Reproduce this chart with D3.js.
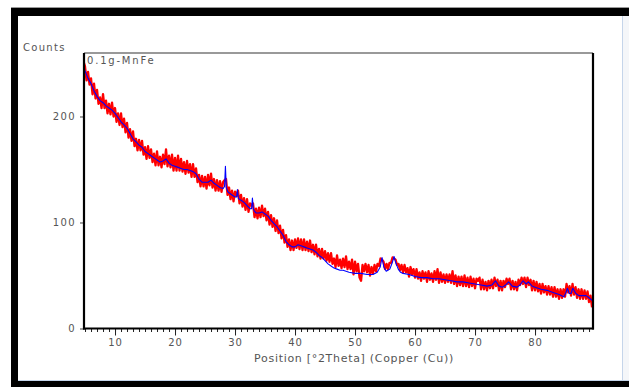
<!DOCTYPE html>
<html>
<head>
<meta charset="utf-8">
<script src="https://cdn.jsdelivr.net/npm/d3@7"></script>
<style>
  body { margin: 0; background: #fff; }
  text { font-family: "DejaVu Sans", sans-serif; font-size: 10px; fill: #555; }
</style>
</head>
<body>
<svg id="chart" width="629" height="387"></svg>
<script>
// sample name and axis ticks
const sampleName = '0.1g-MnFe';
const xTicks = [10, 20, 30, 40, 50, 60, 70, 80];
const yTicks = [0, 100, 200];

// observed counts (red), one value every 0.25 deg starting at 4.75
const redStart = 4.75;
const redStep = 0.25;
const redCounts = [
  252,
  247, 234, 242, 230,  236, 221, 231, 217,  225, 212, 218, 208,  221, 208, 215, 203,
  212, 202, 213, 200,  208, 195, 203, 192,  203, 190, 198, 185,  194, 180, 188, 177,
  186, 172, 179, 168,  178, 168, 177, 164,  171, 160, 172, 161,  169, 157, 165, 154,
  167, 154, 162, 152,  164, 155, 169, 153,  163, 152, 164, 149,  161, 149, 163, 149,
  160, 148, 157, 146,  158, 147, 155, 143,  155, 143, 151, 138,  145, 134, 144, 134,
  143, 132, 145, 135,  146, 133, 141, 130,  140, 130, 139, 129,  138, 140, 141, 126,
  133, 122, 130, 120,  129, 125, 130, 118,  126, 115, 123, 112,  122, 110, 118, 116,
  118, 105, 113, 104,  114, 105, 116, 106,  113, 102, 110, 98,   107, 96, 104, 92,
  102, 90, 97, 85,     93, 81, 88, 77,      84, 74, 83, 74,      84, 76, 85, 75,
  84, 74, 84, 74,      82, 73, 83, 72,      79, 70, 79, 68,      75, 66, 75, 66,
  73, 64, 71, 63,      71, 61, 66, 58,      69, 59, 65, 57,      66, 58, 68, 56,
  63, 56, 65, 51,      63, 54, 61, 48,      45, 60, 54, 61,      53, 60, 50, 58,
  52, 60, 54, 61,      59, 66, 65, 63,      56, 61, 56, 62,      62, 67, 66, 65,
  60, 61, 55, 60,      53, 60, 53, 57,      49, 58, 51, 56,      48, 56, 47, 53,
  45, 54, 47, 53,      44, 54, 46, 52,      44, 54, 46, 56,      43, 53, 44, 51,
  43, 51, 44, 51,      43, 54, 42, 50,      40, 49, 41, 49,      40, 50, 40, 48,
  39, 49, 40, 47,      38, 47, 45, 48,      37, 46, 37, 44,      36, 45, 38, 46,
  38, 48, 40, 46,      36, 45, 36, 45,      39, 47, 42, 47,      37, 45, 37, 44,
  36, 46, 41, 48,      42, 48, 39, 48,      41, 46, 36, 45,      36, 44, 35, 42,
  33, 42, 34, 40,      32, 40, 32, 39,      30, 39, 30, 37,      28, 37, 29, 37,
  30, 42, 34, 40,      31, 42, 32, 39,      29, 37, 28, 37,      28, 36, 28, 35,
  25, 31, 20
];

// calculated profile (blue)
const blueX = [
  4.8, 5, 5.5, 6, 6.5, 7, 7.5, 8, 8.5, 9, 9.5, 10, 10.5, 11, 11.5, 12, 12.5, 13, 13.5, 14,
  14.5, 15, 15.5, 16, 16.5, 17, 17.5, 18, 18.5, 19, 19.5, 20, 20.5, 21, 21.5, 22, 22.5, 23,
  23.5, 24, 24.5, 25, 25.5, 26, 26.5, 27, 27.5, 28, 28.25, 28.4, 28.55, 28.8, 29, 29.5, 30,
  30.25, 30.4, 30.55, 30.7, 31, 31.5, 32, 32.5, 32.75, 32.9, 33.05, 33.2, 33.5, 34, 34.5, 35,
  35.5, 36, 36.5, 37, 37.5, 38, 38.5, 39, 39.5, 40, 40.5, 41, 41.5, 42, 42.5, 43, 43.5, 44,
  44.5, 45, 45.5, 46, 46.5, 47, 47.5, 48, 48.5, 49, 50, 51, 52, 53, 53.7, 54.2, 54.5, 54.8,
  55.2, 55.8, 56.2, 56.5, 56.8, 57.2, 57.6, 58, 59, 60, 61, 62, 63, 64, 65, 66, 67, 68, 69,
  70, 71, 72, 72.8, 73.4, 74, 74.6, 75.1, 75.6, 76.2, 77, 77.5, 78, 78.5, 78.9, 79.5, 80, 81,
  82, 83, 84, 84.8, 85.1, 85.4, 85.7, 86, 86.3, 86.8, 87.3, 88, 88.5, 89, 89.6
];
const blueCounts = [
  247, 243, 236, 231, 224, 219, 215, 213, 210, 208, 206, 203, 199, 195, 192, 189, 184, 179, 176, 173,
  171, 167, 165, 163, 161, 159, 157, 158, 160, 156, 154, 153, 152, 151, 150, 150, 149, 148,
  146, 141, 138, 138, 138, 140, 137, 135, 133, 132, 134, 153, 133, 129, 128, 126, 124,
  124, 131, 123, 122, 121, 119, 116, 113, 113, 123, 113, 111, 109, 109, 110, 108,
  106, 102, 99, 96, 92, 88, 82, 79, 77, 77, 79, 78, 77, 76, 75, 74, 72, 69,
  67, 64, 61, 59, 57, 56, 55, 55, 54, 53, 52, 52, 51, 51, 53, 58, 67, 58,
  54, 56, 62, 68, 62, 56, 53, 52, 51, 49, 48, 48, 47, 47, 46, 45, 44, 44, 43,
  42, 41, 40, 41, 45, 40, 39, 41, 44, 40, 39, 41, 45, 42, 44, 40, 39, 37,
  36, 34, 32, 30, 33, 38, 33, 33, 38, 33, 31, 31, 31, 29, 26
];

const svg = d3.select('#chart');

// window frame
svg.append('rect').attr('x', 0).attr('y', 0).attr('width', 629).attr('height', 387).attr('fill', '#fff');
svg.append('rect').attr('x', 11).attr('y', 7).attr('width', 618).attr('height', 1).attr('fill', '#9a9a9a');
svg.append('rect').attr('x', 11).attr('y', 8).attr('width', 618).attr('height', 8).attr('fill', '#000');
svg.append('rect').attr('x', 11).attr('y', 8).attr('width', 7).attr('height', 379).attr('fill', '#000');
svg.append('rect').attr('x', 11).attr('y', 381).attr('width', 618).attr('height', 6).attr('fill', '#000');
svg.append('rect').attr('x', 622).attr('y', 16).attr('width', 7).attr('height', 365).attr('fill', '#f4f6f9');
svg.append('line').attr('x1', 622.5).attr('x2', 622.5).attr('y1', 16).attr('y2', 381)
  .attr('stroke', '#c5d5ea').attr('stroke-width', 1);
svg.append('line').attr('x1', 18).attr('x2', 629).attr('y1', 380.5).attr('y2', 380.5)
  .attr('stroke', '#c5d5ea').attr('stroke-width', 1);

const plotLeft = 84, plotRight = 593, plotTop = 53, plotBottom = 328.5;

const x = d3.scaleLinear().domain([4.83, 89.66]).range([plotLeft, plotRight]);
const y = d3.scaleLinear().domain([0, 259.9]).range([plotBottom, plotTop]);

svg.append('defs').append('clipPath').attr('id', 'plotClip')
  .append('rect').attr('x', plotLeft).attr('y', plotTop)
  .attr('width', plotRight - plotLeft).attr('height', plotBottom - plotTop);

const plot = svg.append('g').attr('clip-path', 'url(#plotClip)');

const redLine = d3.line()
  .x((d, i) => x(redStart + i * redStep))
  .y(d => y(d));

const blueLine = d3.line()
  .x((d, i) => x(blueX[i]))
  .y(d => y(d));

plot.append('path')
  .datum(redCounts)
  .attr('d', redLine)
  .attr('fill', 'none')
  .attr('stroke', '#ff0000')
  .attr('stroke-width', 2.3)
  .attr('stroke-linejoin', 'round');

plot.append('path')
  .datum(blueCounts)
  .attr('d', blueLine)
  .attr('fill', 'none')
  .attr('stroke', '#0000ff')
  .attr('stroke-width', 1.1)
  .attr('stroke-linejoin', 'round');

// x axis: minor ticks every degree, major every 10
svg.append('g').attr('transform', 'translate(0,' + plotBottom + ')')
  .call(d3.axisBottom(x).tickValues(d3.range(5, 90)).tickSize(3.5).tickFormat(''))
  .call(g => g.select('.domain').remove())
  .call(g => g.selectAll('line').attr('stroke', '#222'));

svg.append('g').attr('transform', 'translate(0,' + plotBottom + ')')
  .call(d3.axisBottom(x).tickValues(xTicks).tickSize(7).tickPadding(3.5).tickFormat(d3.format('d')))
  .call(g => g.select('.domain').remove())
  .call(g => g.selectAll('line').attr('stroke', '#222'))
  .call(g => g.selectAll('text').attr('fill', '#5a5a5a').style('letter-spacing', '1px'));

svg.append('g').attr('transform', 'translate(' + plotLeft + ',0)')
  .call(d3.axisLeft(y).tickValues(yTicks).tickSize(4).tickPadding(4))
  .call(g => g.select('.domain').remove())
  .call(g => g.selectAll('line').attr('stroke', '#444'))
  .call(g => g.selectAll('text').attr('fill', '#5a5a5a').style('letter-spacing', '1.4px'));

// plot box
svg.append('line').attr('x1', plotLeft).attr('x2', plotRight).attr('y1', plotTop).attr('y2', plotTop)
  .attr('stroke', '#777').attr('stroke-width', 1.5);
svg.append('line').attr('x1', plotRight).attr('x2', plotRight).attr('y1', plotTop).attr('y2', plotBottom + 1)
  .attr('stroke', '#000').attr('stroke-width', 2.2);
svg.append('line').attr('x1', plotLeft).attr('x2', plotLeft).attr('y1', plotTop).attr('y2', plotBottom + 1)
  .attr('stroke', '#000').attr('stroke-width', 2.2);
svg.append('line').attr('x1', plotLeft - 1).attr('x2', plotRight + 1).attr('y1', plotBottom).attr('y2', plotBottom)
  .attr('stroke', '#000').attr('stroke-width', 2.2);

// labels
svg.append('text').attr('x', 23).attr('y', 50.5).style('letter-spacing', '1.3px').text('Counts');
svg.append('text').attr('x', 87).attr('y', 63.5).attr('fill', '#444').style('letter-spacing', '1.8px').text(sampleName);
svg.append('text').attr('x', 354).attr('y', 362).attr('text-anchor', 'middle')
  .style('font-size', '11px').style('letter-spacing', '0.7px').text('Position [°2Theta] (Copper (Cu))');
</script>
</body>
</html>
